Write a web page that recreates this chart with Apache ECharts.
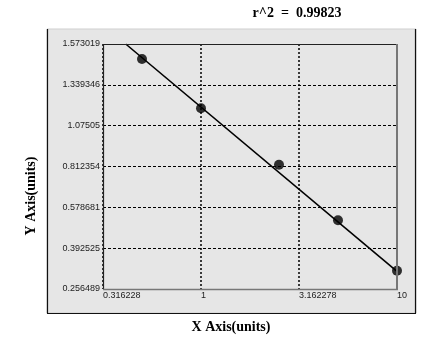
<!DOCTYPE html>
<html><head><meta charset="utf-8">
<script src="https://cdn.jsdelivr.net/npm/echarts@6/dist/echarts.min.js"></script>
<style>html,body{margin:0;padding:0;background:#fff}#c{width:437px;height:341px}</style>
</head><body><div id="c"></div>
<script>
// ---- data ----
var xTicks = [0.316228, 1, 3.162278, 10];
var xTickLabels = ['0.316228', '1', '3.162278', '10'];
var yTicks = [1.573019, 1.339346, 1.07505, 0.812354, 0.578681, 0.392525, 0.256489];
var yTickLabels = ['1.573019', '1.339346', '1.07505', '0.812354', '0.578681', '0.392525', '0.256489'];
var pointX = [0.5, 1, 2.5, 5, 10];
var pointY = [1.4875, 1.188, 0.824, 0.520, 0.317];
var fitX = [0.413, 10];
var fitY = [1.573019, 0.315];
var r2Text = 'r^2  =  0.99823';

// the y axis of the reference is spaced evenly by tick, not linearly by value:
// map a value onto that tick-index scale (piecewise linear between ticks)
function toIdx(v) {
  for (var i = 0; i < yTicks.length - 1; i++) {
    var a = yTicks[i], b = yTicks[i + 1];
    if ((v <= a && v >= b) || i === yTicks.length - 2) {
      return i + (a - v) / (a - b);
    }
  }
  return 0;
}
function pairs(xs, ys) { return xs.map(function (x, i) { return [x, toIdx(ys[i])]; }); }

var L = 103, R = 397, T = 44, B = 289;
var chart = echarts.init(document.getElementById('c'), null, {renderer: 'canvas'});
chart.setOption({
  animation: false,
  backgroundColor: '#ffffff',
  grid: {left: L, right: 437 - R, top: T, bottom: 341 - B, show: true, backgroundColor: '#e6e6e6', borderWidth: 0},
  xAxis: {
    type: 'log', logBase: Math.sqrt(10), min: xTicks[0], max: xTicks[3],
    axisLine: {show: false}, axisTick: {show: false},
    axisLabel: {
      fontSize: 9, fontFamily: 'Liberation Sans, Arial', color: '#222', align: 'left', margin: 2,
      showMinLabel: true, showMaxLabel: true,
      formatter: function (v) {
        var best = 0;
        for (var i = 0; i < xTicks.length; i++) if (Math.abs(Math.log(v) - Math.log(xTicks[i])) < Math.abs(Math.log(v) - Math.log(xTicks[best]))) best = i;
        return xTickLabels[best];
      }
    },
    splitLine: {show: true, lineStyle: {color: '#000', type: [2, 2], width: 1.5}}
  },
  yAxis: {
    type: 'value', min: 0, max: 6, interval: 1, inverse: true,
    axisLine: {show: false}, axisTick: {show: false},
    axisLabel: {fontSize: 9, fontFamily: 'Liberation Sans, Arial', color: '#222', margin: 3,
      formatter: function (v) { return yTickLabels[Math.round(v)]; }},
    splitLine: {show: true, lineStyle: {color: '#000', type: [3, 2], width: 1}}
  },
  series: [
    {type: 'line', data: pairs(fitX, fitY), symbol: 'none', lineStyle: {color: '#000', width: 1.6}, z: 3},
    {type: 'scatter', data: pairs(pointX, pointY), symbol: 'circle', symbolSize: 10, itemStyle: {color: '#000'}, z: 4}
  ],
  graphic: [
    {type: 'rect', shape: {x: 47, y: 29, width: 369, height: 284}, style: {fill: '#e6e6e6', stroke: '#cfcfcf', lineWidth: 1}, z: -10, silent: true},
    {type: 'line', shape: {x1: 47.5, y1: 29, x2: 47.5, y2: 313.5}, style: {stroke: '#111', lineWidth: 1.2}, z: -9},
    {type: 'line', shape: {x1: 47, y1: 313.5, x2: 416, y2: 313.5}, style: {stroke: '#111', lineWidth: 1.2}, z: -9},
    {type: 'line', shape: {x1: 415.5, y1: 29, x2: 415.5, y2: 313.5}, style: {stroke: '#111', lineWidth: 1.2}, z: -9},
    {type: 'line', shape: {x1: L, y1: T + 0.5, x2: R, y2: T + 0.5}, style: {stroke: '#222', lineWidth: 1.2}, z: 50},
    {type: 'line', shape: {x1: L + 0.5, y1: T, x2: L + 0.5, y2: B}, style: {stroke: '#222', lineWidth: 1.2}, z: 50},
    {type: 'line', shape: {x1: R, y1: T, x2: R, y2: B + 1}, style: {stroke: '#777', lineWidth: 2}, z: 50},
    {type: 'line', shape: {x1: L, y1: B + 0.5, x2: R + 1, y2: B + 0.5}, style: {stroke: '#777', lineWidth: 1.5}, z: 50},
    {type: 'text', x: 297, y: 13, style: {text: r2Text, font: 'bold 14px "Liberation Serif", "Times New Roman", serif', fill: '#000', textAlign: 'center', textVerticalAlign: 'middle'}, z: 60},
    {type: 'text', x: 231, y: 327, style: {text: 'X Axis(units)', font: 'bold 14px "Liberation Serif", "Times New Roman", serif', fill: '#000', textAlign: 'center', textVerticalAlign: 'middle'}, z: 60},
    {type: 'text', x: 31, y: 196, rotation: Math.PI / 2, style: {text: 'Y Axis(units)', font: 'bold 14px "Liberation Serif", "Times New Roman", serif', fill: '#000', textAlign: 'center', textVerticalAlign: 'middle'}, z: 60}
  ]
});
</script></body></html>
